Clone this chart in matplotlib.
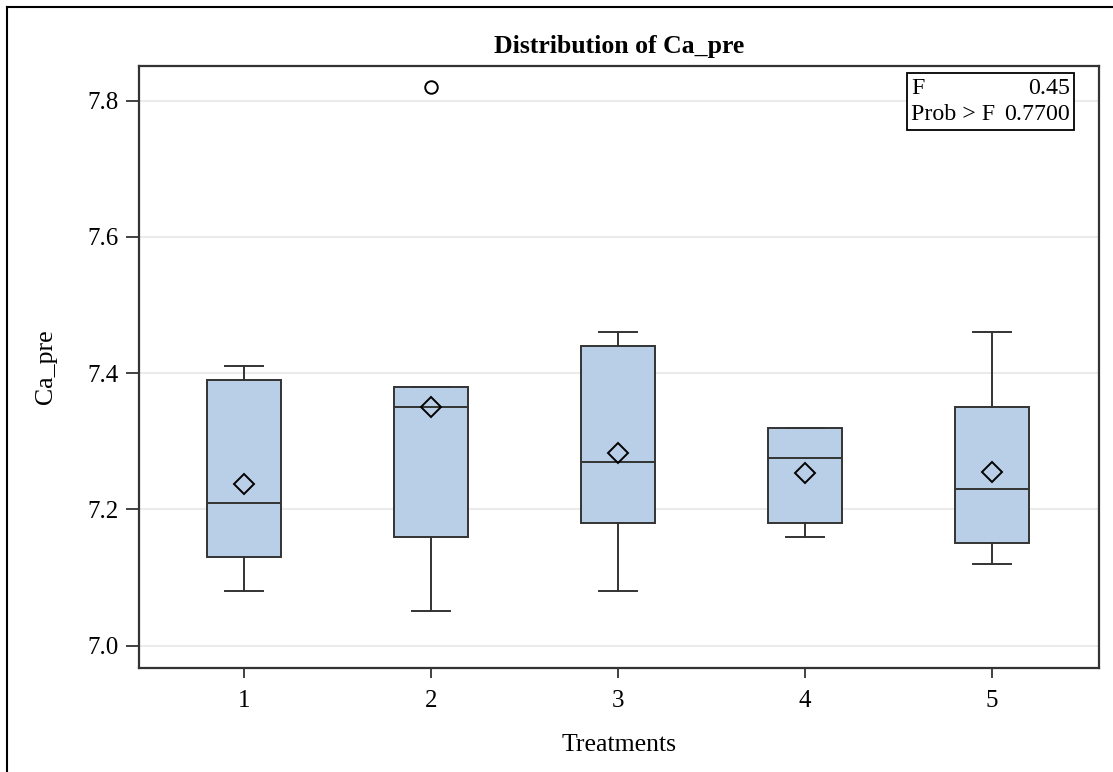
import matplotlib
matplotlib.use("Agg")
import matplotlib.pyplot as plt
from matplotlib.patches import Rectangle
from matplotlib.lines import Line2D

# ---- data ----
treatments = ["1", "2", "3", "4", "5"]
whisker_low = [7.08, 7.05, 7.08, 7.16, 7.12]
q1 = [7.13, 7.16, 7.18, 7.18, 7.15]
medians = [7.21, 7.35, 7.27, 7.275, 7.23]
q3 = [7.39, 7.38, 7.44, 7.32, 7.35]
whisker_high = [7.41, 7.38, 7.46, 7.32, 7.46]
means = [7.237, 7.35, 7.282, 7.254, 7.255]
outliers = [[], [7.82], [], [], []]
y_ticks = [7.0, 7.2, 7.4, 7.6, 7.8]
f_value = "0.45"
prob_f = "0.7700"

plt.rcParams['font.family'] = ['Liberation Serif', 'DejaVu Serif']

fig = plt.figure(figsize=(11.13, 7.72), dpi=100)
ax = fig.add_axes([139/1113, 1-668/772, (1099-139)/1113, (668-66)/772])

positions = list(range(1, len(treatments) + 1))
stats = []
for i in range(len(treatments)):
    stats.append(dict(med=medians[i], q1=q1[i], q3=q3[i], whislo=whisker_low[i],
                      whishi=whisker_high[i], mean=means[i], fliers=outliers[i],
                      label=treatments[i]))

edge = '#333333'
ax.bxp(stats, positions=positions, widths=0.40, patch_artist=True,
       showmeans=True, showfliers=True,
       boxprops=dict(facecolor='#b9cfe7', edgecolor=edge, linewidth=1.4),
       medianprops=dict(color=edge, linewidth=1.4),
       whiskerprops=dict(color=edge, linewidth=1.4),
       capprops=dict(color=edge, linewidth=1.4),
       capwidths=0.2,
       meanprops=dict(marker='D', markerfacecolor='none', markeredgecolor='black',
                      markersize=10, markeredgewidth=1.4),
       flierprops=dict(marker='o', markerfacecolor='none', markeredgecolor='black',
                       markersize=9, markeredgewidth=1.4),
       zorder=3)

ax.set_xlim(0.4385, 5.572)
ax.set_ylim(6.967, 7.851)
ax.set_yticks(y_ticks)
ax.set_yticklabels([f"{v:.1f}" for v in y_ticks])
ax.set_xticks(positions)
ax.set_xticklabels(treatments)
ax.yaxis.grid(True, color='#ebebeb', linewidth=1.5, zorder=0)
ax.set_axisbelow(True)
for s in ax.spines.values():
    s.set_color('#333333')
    s.set_linewidth(1.6)
ax.tick_params(axis='both', direction='out', width=1.3, color='#333333', labelsize=18)
ax.tick_params(axis='y', length=9.5, pad=5)
ax.tick_params(axis='x', length=7, pad=9)

ax.set_xlabel("Treatments", fontsize=18.5, labelpad=16)
ax.set_ylabel("Ca_pre", fontsize=18.5, labelpad=22)
ax.set_title("Distribution of Ca_pre", fontsize=18.5, fontweight='bold', pad=9)

# F statistics inset
x0, x1 = (907-139)/960, (1074-139)/960
y0, y1 = (668-130)/602, (668-73)/602
ax.add_patch(Rectangle((x0, y0), x1-x0, y1-y0, transform=ax.transAxes,
                       facecolor='white', edgecolor='black', linewidth=1.3, zorder=5))
fs_in = 17.2
ax.text(x0+0.004, (668-89)/602, "F", transform=ax.transAxes, ha='left', va='center',
        fontsize=fs_in, zorder=6)
ax.text(x1-0.004, (668-89)/602, f_value, transform=ax.transAxes, ha='right', va='center',
        fontsize=fs_in, zorder=6)
ax.text(x0+0.004, (668-115)/602, "Prob > F", transform=ax.transAxes, ha='left', va='center',
        fontsize=fs_in, zorder=6)
ax.text(x1-0.004, (668-115)/602, prob_f, transform=ax.transAxes, ha='right', va='center',
        fontsize=fs_in, zorder=6)

# outer frame (top and left edges visible)
fig.add_artist(Line2D([7/1113, 7/1113], [0, 1-7/772], transform=fig.transFigure,
                      color='black', linewidth=1.5))
fig.add_artist(Line2D([7/1113, 1], [1-7/772, 1-7/772], transform=fig.transFigure,
                      color='black', linewidth=1.5))

fig.savefig("out.png", dpi=100)
